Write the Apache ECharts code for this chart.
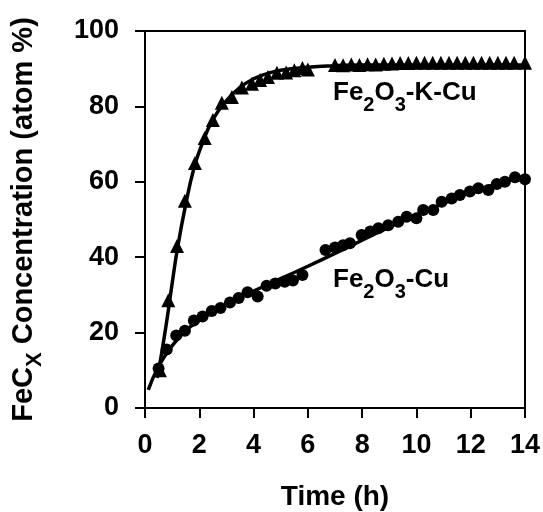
<!DOCTYPE html>
<html>
<head>
<meta charset="utf-8">
<script src="https://cdn.jsdelivr.net/npm/echarts@6/dist/echarts.min.js"></script>
<style>
  html, body { margin: 0; padding: 0; background: #fff; }
  #chart { width: 543px; height: 512px; }
</style>
</head>
<body>
<div id="chart"></div>
<script>
// Fe2O3-K-Cu measured points [time h, FeCx %]
const kcuPoints = [
  [0.55, 10], [0.86, 28.6], [1.18, 43], [1.47, 55], [1.84, 65], [2.2, 71.6],
  [2.5, 76.4], [2.83, 81], [3.2, 82.5], [3.57, 85], [3.94, 86], [4.24, 87],
  [4.53, 87.8], [4.86, 88.9], [5.2, 89], [5.5, 89.6], [5.8, 90.2], [6.0, 89.8],
  [7.0, 91.0], [7.3, 90.9], [7.6, 91.1], [7.9, 91.0], [8.2, 91.2], [8.5, 91.1],
  [8.8, 91.3], [9.1, 91.4], [9.4, 91.5], [9.7, 91.5], [10.0, 91.6], [10.3, 91.6],
  [10.6, 91.6], [10.9, 91.6], [11.2, 91.6], [11.5, 91.6], [11.8, 91.6], [12.1, 91.6],
  [12.4, 91.6], [12.7, 91.6], [13.0, 91.6], [13.3, 91.6], [13.6, 91.6], [14.0, 91.6]
];
// Fe2O3-K-Cu fitted curve
const kcuFit = [
  [0.45, 8], [0.6, 14], [0.8, 23], [1.0, 33], [1.2, 42.5], [1.5, 54], [1.8, 63.5],
  [2.1, 70], [2.5, 76.5], [3.0, 81.5], [3.5, 85], [4.0, 87.3], [4.5, 88.7],
  [5.0, 89.6], [6.0, 90.4], [7.0, 90.8], [8.0, 91], [14.0, 91]
];
// Fe2O3-Cu measured points
const cuPoints = [
  [0.5, 10.5], [0.8, 15.5], [1.15, 19.2], [1.47, 20.5], [1.8, 23.2], [2.12, 24.3],
  [2.46, 25.7], [2.78, 26.5], [3.13, 28.0], [3.45, 29.2], [3.78, 30.7], [4.15, 29.6],
  [4.48, 32.4], [4.8, 33.0], [5.15, 33.5], [5.45, 33.8], [5.8, 35.3], [6.65, 41.9],
  [7.0, 42.6], [7.3, 43.2], [7.55, 43.7], [7.98, 45.9], [8.3, 46.8], [8.6, 47.7],
  [8.96, 48.5], [9.33, 49.4], [9.64, 50.7], [10.0, 50.3], [10.25, 52.5], [10.62, 52.5],
  [10.93, 54.7], [11.3, 55.6], [11.6, 56.5], [11.97, 57.4], [12.28, 58.3], [12.65, 57.8],
  [12.96, 59.4], [13.26, 60], [13.63, 61.2], [14.0, 60.7]
];
// Fe2O3-Cu fitted curve
const cuFit = [
  [0.12, 4.8], [0.5, 11], [1, 16.5], [1.5, 20.5], [2, 23.2], [3, 27.5], [4, 31],
  [5, 34.3], [6, 37.6], [7, 41], [8, 44.5], [9, 48], [10, 51.2], [11, 54.3],
  [12, 57.2], [13, 59.5], [14, 61.5]
];
const xTicks = [0, 2, 4, 6, 8, 10, 12, 14];
const yTicks = [0, 20, 40, 60, 80, 100];

const font = 'Liberation Sans, Arial, sans-serif';
const chart = echarts.init(document.getElementById('chart'));

// subscripts: main token sits at the top of the line, the small one at the bottom
const main = { fontSize: 26, verticalAlign: 'top', fontWeight: 'bold', fontFamily: font, color: '#000' };
const sub = { fontSize: 20, lineHeight: 35, verticalAlign: 'bottom', fontWeight: 'bold', fontFamily: font, color: '#000' };

chart.setOption({
  animation: false,
  backgroundColor: '#fff',
  grid: {
    left: 145, right: 18, top: 31, bottom: 104, outerBoundsMode: 'none',
    show: true, borderColor: '#000', borderWidth: 2, backgroundColor: 'transparent'
  },
  xAxis: {
    type: 'value', min: xTicks[0], max: xTicks[xTicks.length - 1], interval: 2,
    name: 'Time (h)', nameLocation: 'middle', nameGap: 75,
    nameTextStyle: { fontSize: 28, fontWeight: 'bold', fontFamily: font, color: '#000' },
    axisLine: { lineStyle: { color: '#000', width: 2 } },
    axisTick: { show: true, length: 10, lineStyle: { color: '#000', width: 2 } },
    axisLabel: { margin: 24, fontSize: 27, fontWeight: 'bold', fontFamily: font, color: '#000' },
    splitLine: { show: false }
  },
  yAxis: {
    type: 'value', min: yTicks[0], max: yTicks[yTicks.length - 1], interval: 20,
    name: '{a|FeC}{b|X}{a| Concentration (atom %)}', nameLocation: 'middle', nameGap: 99,
    nameTextStyle: {
      rich: {
        a: { fontSize: 29, verticalAlign: 'top', fontWeight: 'bold', fontFamily: font, color: '#000' },
        b: { fontSize: 22, lineHeight: 37, verticalAlign: 'bottom', fontWeight: 'bold', fontFamily: font, color: '#000' }
      }
    },
    axisLine: { lineStyle: { color: '#000', width: 2 } },
    axisTick: { show: true, length: 10, lineStyle: { color: '#000', width: 2 } },
    axisLabel: { margin: 26, fontSize: 27, fontWeight: 'bold', fontFamily: font, color: '#000' },
    splitLine: { show: false }
  },
  graphic: [
    { type: 'text', left: 333, top: 80, style: { text: '{a|Fe}{b|2}{a|O}{b|3}{a|-K-Cu}', rich: { a: main, b: sub } } },
    { type: 'text', left: 333, top: 267, style: { text: '{a|Fe}{b|2}{a|O}{b|3}{a|-Cu}', rich: { a: main, b: sub } } }
  ],
  series: [
    { type: 'line', data: kcuFit, smooth: true, symbol: 'none', lineStyle: { color: '#000', width: 3.5 }, z: 2 },
    { type: 'line', data: cuFit, smooth: true, symbol: 'none', lineStyle: { color: '#000', width: 3.5 }, z: 2 },
    { type: 'scatter', data: kcuPoints, symbol: 'triangle', symbolSize: 14, itemStyle: { color: '#000', opacity: 1 }, z: 3 },
    { type: 'scatter', data: cuPoints, symbol: 'circle', symbolSize: 12, itemStyle: { color: '#000', opacity: 1 }, z: 3 }
  ]
});
</script>
</body>
</html>
